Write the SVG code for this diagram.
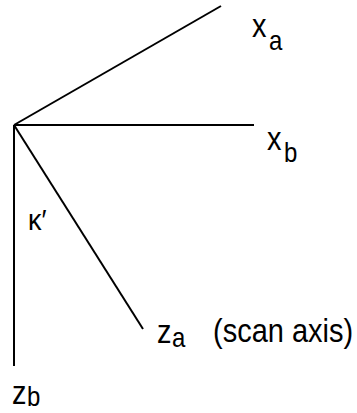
<svg xmlns="http://www.w3.org/2000/svg" width="357" height="413" viewBox="0 0 357 413">
<style>
.ax{stroke:#000;stroke-width:2;fill:none;stroke-linecap:butt}
text{font-family:"Liberation Sans",Arial,sans-serif;fill:#000}
.m{font-size:29px}
.s{font-size:24px}
</style>
<rect width="357" height="413" fill="#fff"/>
<g id="connectors">
<line class="ax" x1="14" y1="125" x2="221" y2="6"/>
<line class="ax" x1="14" y1="125" x2="254" y2="125"/>
<line class="ax" x1="14" y1="125" x2="14" y2="366"/>
<line class="ax" x1="14" y1="125" x2="143" y2="329"/>
</g>
<g id="xa"><text class="m" transform="translate(252,37) scale(1,1.15)">x</text><text class="s" transform="translate(269,50) scale(1,1.15)">a</text></g>
<g id="xb"><text class="m" transform="translate(267,150) scale(1,1.15)">x</text><text class="s" transform="translate(284,162) scale(1,1.15)">b</text></g>
<g id="za"><text class="m" transform="translate(157,343) scale(1,1.15)">z</text><text class="s" transform="translate(172,347) scale(1,1.15)">a</text><text class="m" transform="translate(213,342) scale(1,1.15)">(scan axis)</text></g>
<g id="zb"><text class="m" transform="translate(12,404) scale(1,1.15)">z</text><text class="s" transform="translate(27,406) scale(1,1.15)">b</text></g>
<g id="kappa"><text transform="translate(28,230) scale(1,1.1)" font-size="27">κ′</text></g>
</svg>
